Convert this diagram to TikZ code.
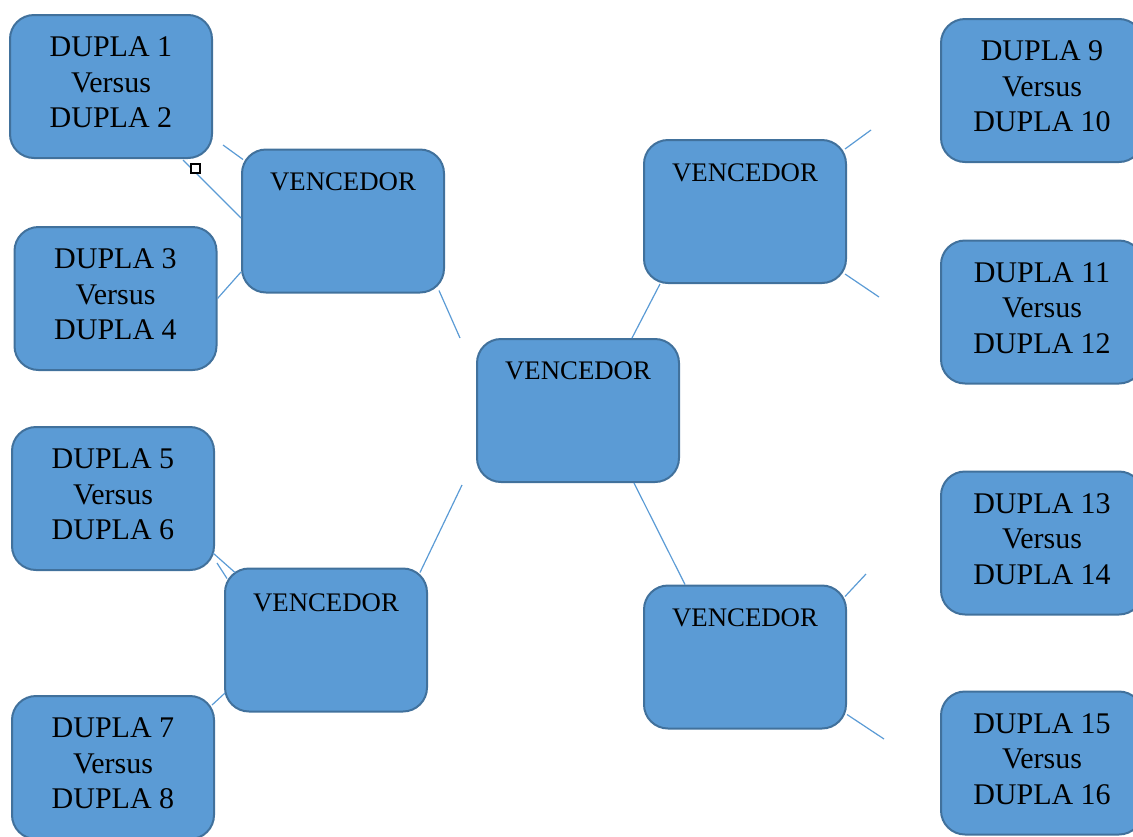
\documentclass[tikz,border=0pt]{standalone}
\usepackage{fontspec}
\setmainfont{Liberation Serif}
\definecolor{boxfill}{HTML}{5B9BD5}
\definecolor{boxline}{HTML}{41719C}
\definecolor{wire}{HTML}{5B9BD5}
\tikzset{
  bracketbox/.style={draw=boxline, fill=boxfill, line width=2pt, rounded corners=24pt,
    minimum width=202pt, minimum height=143pt, inner sep=0pt},
  boxtext/.style={font=\fontsize{26.8}{35}\selectfont, align=center, inner sep=0pt, text=black},
  pairtext/.style={boxtext, font=\fontsize{30}{35.5}\selectfont},
  wireline/.style={draw=wire, line width=1.2pt},
}
\begin{document}
\begin{tikzpicture}[x=1pt, y=-1pt]
\useasboundingbox (0,0) rectangle (1133,836);
\clip (0,0) rectangle (1133,836);
% pair boxes
\node[bracketbox] (d12) at (111,86.5) {};
\node[bracketbox] (d34) at (115.5,298.5) {};
\node[bracketbox] (d56) at (113,498.5) {};
\node[bracketbox] (d78) at (113,767.5) {};
\node[bracketbox] (d910) at (1042,90.5) {};
\node[bracketbox] (d1112) at (1042,312) {};
\node[bracketbox] (d1314) at (1042,543) {};
\node[bracketbox] (d1516) at (1042,763) {};
\node[pairtext] (t12) at ([yshift=4pt]d12.center) {DUPLA 1\\Versus\\DUPLA 2};
\node[pairtext] (t34) at ([yshift=4pt]d34.center) {DUPLA 3\\Versus\\DUPLA 4};
\node[pairtext] (t56) at ([yshift=4pt]d56.center) {DUPLA 5\\Versus\\DUPLA 6};
\node[pairtext] (t78) at ([yshift=4pt]d78.center) {DUPLA 7\\Versus\\DUPLA 8};
\node[pairtext] (t910) at ([yshift=4pt]d910.center) {DUPLA 9\\Versus\\DUPLA 10};
\node[pairtext] (t1112) at ([yshift=4pt]d1112.center) {DUPLA 11\\Versus\\DUPLA 12};
\node[pairtext] (t1314) at ([yshift=4pt]d1314.center) {DUPLA 13\\Versus\\DUPLA 14};
\node[pairtext] (t1516) at ([yshift=4pt]d1516.center) {DUPLA 15\\Versus\\DUPLA 16};
% winner boxes
\node[bracketbox] (v1) at (343,221) {};
\node[bracketbox] (v2) at (745,211.5) {};
\node[bracketbox] (vc) at (578,410.5) {};
\node[bracketbox] (v3) at (326,640) {};
\node[bracketbox] (v4) at (745,657) {};
\node[boxtext] (tv1) at ([yshift=-33pt]v1.north) {VENCEDOR};
\node[boxtext] (tv2) at ([yshift=-34pt]v2.north) {VENCEDOR};
\node[boxtext] (tvc) at ([yshift=-33pt]vc.north) {VENCEDOR};
\node[boxtext] (tv3) at ([yshift=-35pt]v3.north) {VENCEDOR};
\node[boxtext] (tv4) at ([yshift=-33pt]v4.north) {VENCEDOR};
% free ends
\coordinate (f1) at (223,145);
\coordinate (f2) at (460,338);
\coordinate (f3) at (462,485);
\coordinate (f4) at (871,130);
\coordinate (f5) at (879,297);
\coordinate (f6) at (866,574);
\coordinate (f7) at (884,739);
% connectors
\draw[wireline] (f1) -- ([xshift=2pt,yshift=-11pt]v1.north west);
\draw[wireline] ([xshift=-30pt,yshift=-1pt]d12.south east) -- ([yshift=3pt]v1.west);
\draw[wireline] (d34.east) -- ([yshift=-51pt]v1.west);
\draw[wireline] ([xshift=-2pt,yshift=18pt]d56.south east) -- ([xshift=11pt,yshift=-5pt]v3.north west);
\draw[wireline] ([xshift=2pt,yshift=8pt]d56.south east) -- ([xshift=3pt,yshift=-11pt]v3.north west);
\draw[wireline] ([xshift=-3pt,yshift=-10pt]d78.north east) -- ([xshift=1pt,yshift=-53pt]v3.west);
\draw[wireline] ([xshift=-6pt,yshift=3pt]v1.south east) -- (f2);
\draw[wireline] (f3) -- ([xshift=-8pt,yshift=-5pt]v3.north east);
\draw[wireline] ([xshift=-85pt]v2.south) -- ([xshift=54pt]vc.north);
\draw[wireline] ([xshift=56pt]vc.south) -- ([xshift=-60pt]v4.north);
\draw[wireline] ([xshift=-2pt,yshift=-10pt]v2.north east) -- (f4);
\draw[wireline] ([xshift=-2pt,yshift=10pt]v2.south east) -- (f5);
\draw[wireline] ([xshift=-2pt,yshift=-12pt]v4.north east) -- (f6);
\draw[wireline] ([yshift=15pt]v4.south east) -- (f7);
% selection handle
\draw[black, line width=2pt, fill=white] (191,163.5) rectangle (200,172.5);
\end{tikzpicture}
\end{document}
